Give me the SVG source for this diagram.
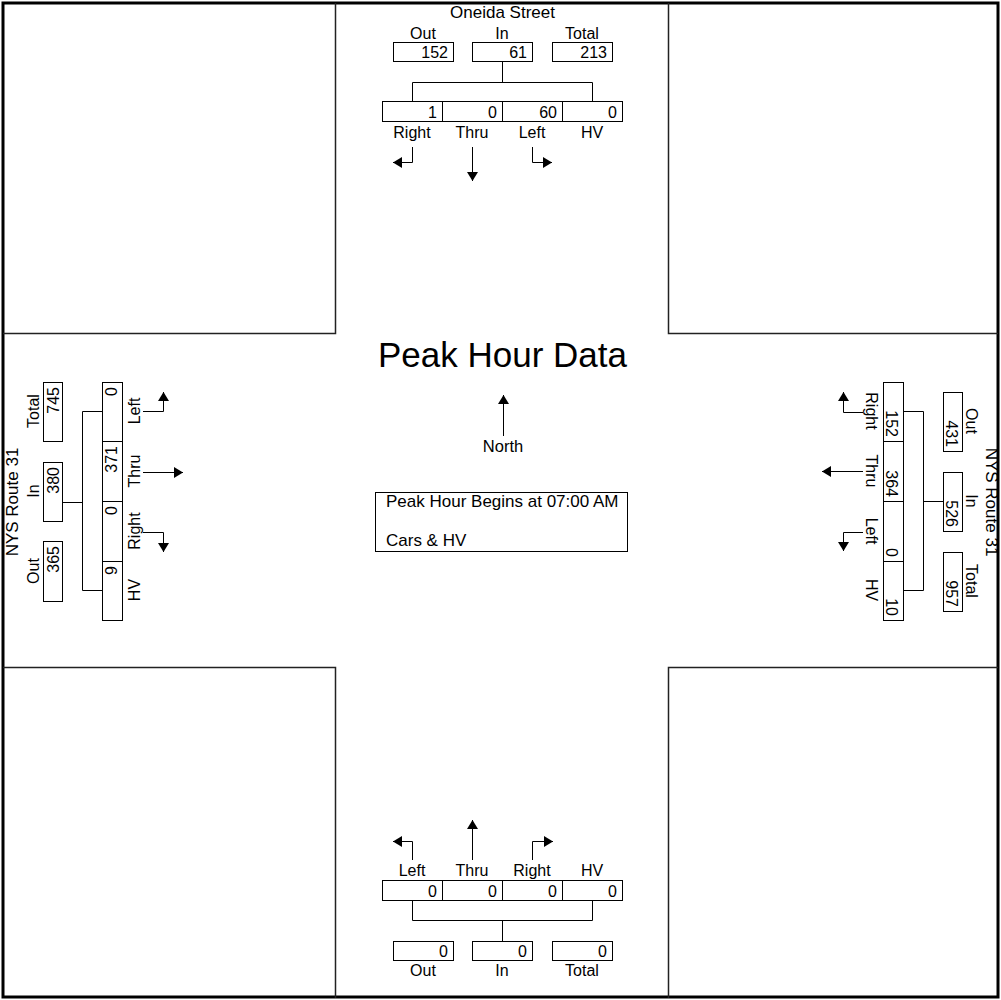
<svg xmlns="http://www.w3.org/2000/svg" width="1001" height="1000" viewBox="0 0 1001 1000">
<style>
.b{fill:#fff;stroke:#000;stroke-width:1}
.ln{fill:none;stroke:#000;stroke-width:1}
.q{fill:none;stroke:#222;stroke-width:1.5}
.ar{fill:none;stroke:#000;stroke-width:1;marker-end:url(#ah)}
text{font-family:"Liberation Sans",Arial,sans-serif;font-size:16px;fill:#000}
.m{text-anchor:middle}
.e{text-anchor:end}
.s{font-size:17px}
</style>
<defs>
<marker id="ah" markerUnits="userSpaceOnUse" markerWidth="12" markerHeight="12" refX="9" refY="5.5" orient="auto">
<path d="M0,0 L9,5.5 L0,11 z" fill="#000"/>
</marker>
</defs>
<rect x="0" y="0" width="1001" height="1000" fill="#fff"/>
<g id="frame">
<rect x="3" y="3" width="995" height="994" fill="none" stroke="#000" stroke-width="3"/>
<path class="q" d="M3,333.5 H335.5 V3 M668.5,3 V333.5 H998 M3,667.5 H335.5 V998 M668.5,998 V667.5 H998"/>
</g>
<g id="connectors">
<path class="ln" d="M502.5,61 V82.5 M412.5,101 V82.5 H592.5 V101"/>
<path class="ln" d="M412.5,900 V920.5 H592.5 V900 M502.5,920.5 V941"/>
<path class="ln" d="M62,502.5 H82.5 M102,411.5 H82.5 V590.5 H102"/>
<path class="ln" d="M943,501.5 H923.5 M903,411.5 H923.5 V590.5 H903"/>
<path class="ar" d="M412.5,147 V162.5 H393"/>
<path class="ar" d="M472.5,147 V181"/>
<path class="ar" d="M532.5,147 V162.5 H552"/>
<path class="ar" d="M412.5,860 V841.5 H393"/>
<path class="ar" d="M472.5,860 V820"/>
<path class="ar" d="M532.5,860 V841.5 H553"/>
<path class="ar" d="M143,411.5 H163.5 V392"/>
<path class="ar" d="M143,472.5 H183"/>
<path class="ar" d="M143,532.5 H163.5 V552"/>
<path class="ar" d="M863,412.5 H843.5 V392"/>
<path class="ar" d="M863,471.5 H822"/>
<path class="ar" d="M863,532.5 H843.5 V551"/>
<path class="ar" d="M503.5,436 V395"/>
</g>
<g id="title">
<text x="502.5" y="367" class="m" style="font-size:35px">Peak Hour Data</text>
<text x="503" y="452" class="m" style="font-size:16.5px">North</text>
</g>
<g id="info">
<rect class="b" x="375.5" y="492.5" width="252" height="59"/>
<text x="386" y="507" class="s">Peak Hour Begins at 07:00 AM</text>
<text x="386" y="546" class="s">Cars &amp; HV</text>
</g>
<g id="north">
<text x="502.5" y="18" class="m s">Oneida Street</text>
<text x="423" y="39" class="m">Out</text>
<text x="502" y="39" class="m">In</text>
<text x="582" y="39" class="m">Total</text>
<rect class="b" x="393.5" y="42.5" width="60" height="19"/>
<rect class="b" x="472.5" y="42.5" width="60" height="19"/>
<rect class="b" x="552.5" y="42.5" width="60" height="19"/>
<text x="448" y="58" class="e">152</text>
<text x="527" y="58" class="e">61</text>
<text x="607" y="58" class="e">213</text>
<rect class="b" x="382.5" y="101.5" width="60" height="20"/>
<rect class="b" x="442.5" y="101.5" width="60" height="20"/>
<rect class="b" x="502.5" y="101.5" width="60" height="20"/>
<rect class="b" x="562.5" y="101.5" width="60" height="20"/>
<text x="437" y="118" class="e">1</text>
<text x="497" y="118" class="e">0</text>
<text x="557" y="118" class="e">60</text>
<text x="617" y="118" class="e">0</text>
<text x="412" y="138" class="m">Right</text>
<text x="472" y="138" class="m">Thru</text>
<text x="532" y="138" class="m">Left</text>
<text x="592" y="138" class="m">HV</text>
</g>
<g id="south">
<text x="412" y="876" class="m">Left</text>
<text x="472" y="876" class="m">Thru</text>
<text x="532" y="876" class="m">Right</text>
<text x="592" y="876" class="m">HV</text>
<rect class="b" x="382.5" y="880.5" width="60" height="20"/>
<rect class="b" x="442.5" y="880.5" width="60" height="20"/>
<rect class="b" x="502.5" y="880.5" width="60" height="20"/>
<rect class="b" x="562.5" y="880.5" width="60" height="20"/>
<text x="437" y="897" class="e">0</text>
<text x="497" y="897" class="e">0</text>
<text x="557" y="897" class="e">0</text>
<text x="617" y="897" class="e">0</text>
<rect class="b" x="393.5" y="941.5" width="60" height="19"/>
<rect class="b" x="472.5" y="941.5" width="60" height="19"/>
<rect class="b" x="552.5" y="941.5" width="60" height="19"/>
<text x="448" y="957" class="e">0</text>
<text x="527" y="957" class="e">0</text>
<text x="607" y="957" class="e">0</text>
<text x="423" y="976" class="m">Out</text>
<text x="502" y="976" class="m">In</text>
<text x="582" y="976" class="m">Total</text>
</g>
<g id="west">
<text x="18" y="502" class="m s" transform="rotate(-90 18 502)">NYS Route 31</text>
<text x="39" y="411" class="m" transform="rotate(-90 39 411)">Total</text>
<text x="39" y="491" class="m" transform="rotate(-90 39 491)">In</text>
<text x="39" y="571" class="m" transform="rotate(-90 39 571)">Out</text>
<rect class="b" x="43.5" y="382.5" width="19" height="59"/>
<rect class="b" x="43.5" y="462.5" width="19" height="59"/>
<rect class="b" x="43.5" y="541.5" width="19" height="60"/>
<text x="59" y="387" class="e" transform="rotate(-90 59 387)">745</text>
<text x="59" y="467" class="e" transform="rotate(-90 59 467)">380</text>
<text x="59" y="546" class="e" transform="rotate(-90 59 546)">365</text>
<rect class="b" x="102.5" y="382.5" width="20" height="59"/>
<rect class="b" x="102.5" y="441.5" width="20" height="60"/>
<rect class="b" x="102.5" y="501.5" width="20" height="60"/>
<rect class="b" x="102.5" y="561.5" width="20" height="59"/>
<text x="117" y="387" class="e" transform="rotate(-90 117 387)">0</text>
<text x="117" y="446" class="e" transform="rotate(-90 117 446)">371</text>
<text x="117" y="506" class="e" transform="rotate(-90 117 506)">0</text>
<text x="117" y="566" class="e" transform="rotate(-90 117 566)">9</text>
<text x="140" y="411" class="m" transform="rotate(-90 140 411)">Left</text>
<text x="140" y="471" class="m" transform="rotate(-90 140 471)">Thru</text>
<text x="140" y="531" class="m" transform="rotate(-90 140 531)">Right</text>
<text x="140" y="590" class="m" transform="rotate(-90 140 590)">HV</text>
</g>
<g id="east">
<text x="986" y="502" class="m s" transform="rotate(90 986 502)">NYS Route 31</text>
<text x="966" y="421" class="m" transform="rotate(90 966 421)">Out</text>
<text x="966" y="501" class="m" transform="rotate(90 966 501)">In</text>
<text x="966" y="581" class="m" transform="rotate(90 966 581)">Total</text>
<rect class="b" x="943.5" y="392.5" width="19" height="59"/>
<rect class="b" x="943.5" y="472.5" width="19" height="59"/>
<rect class="b" x="943.5" y="552.5" width="19" height="59"/>
<text x="946" y="447" class="e" transform="rotate(90 946 447)">431</text>
<text x="946" y="527" class="e" transform="rotate(90 946 527)">526</text>
<text x="946" y="607" class="e" transform="rotate(90 946 607)">957</text>
<rect class="b" x="883.5" y="382.5" width="20" height="59"/>
<rect class="b" x="883.5" y="441.5" width="20" height="60"/>
<rect class="b" x="883.5" y="501.5" width="20" height="60"/>
<rect class="b" x="883.5" y="561.5" width="20" height="59"/>
<text x="886" y="437" class="e" transform="rotate(90 886 437)">152</text>
<text x="886" y="497" class="e" transform="rotate(90 886 497)">364</text>
<text x="886" y="557" class="e" transform="rotate(90 886 557)">0</text>
<text x="886" y="616" class="e" transform="rotate(90 886 616)">10</text>
<text x="866" y="411" class="m" transform="rotate(90 866 411)">Right</text>
<text x="866" y="471" class="m" transform="rotate(90 866 471)">Thru</text>
<text x="866" y="531" class="m" transform="rotate(90 866 531)">Left</text>
<text x="866" y="590" class="m" transform="rotate(90 866 590)">HV</text>
</g>
</svg>
